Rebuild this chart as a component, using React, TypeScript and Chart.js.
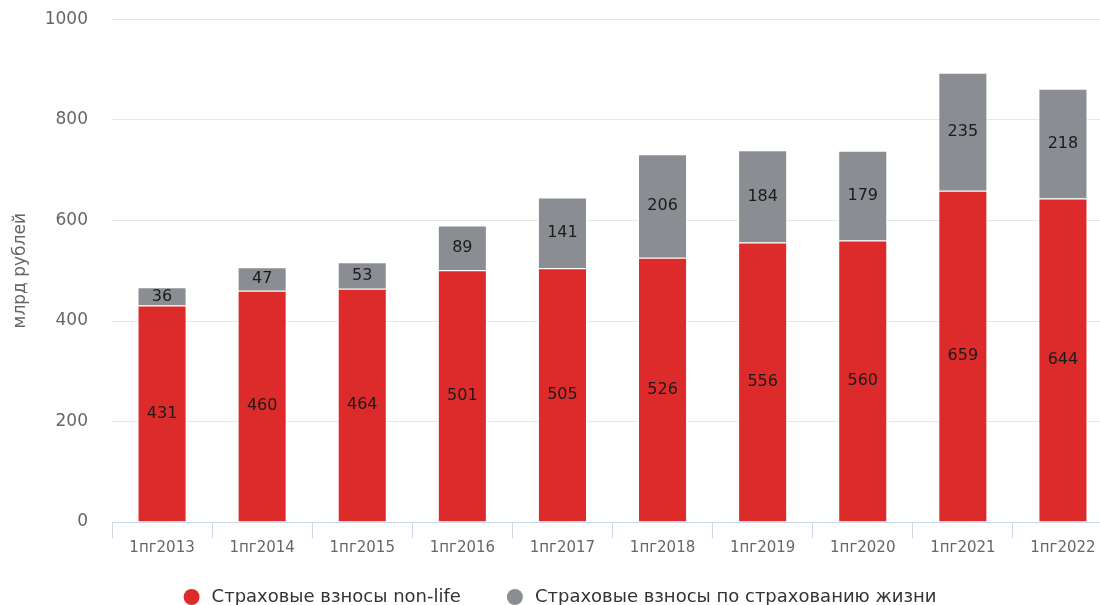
import React, { useEffect, useRef } from "react";
import { Chart, registerables } from "chart.js";

Chart.register(...registerables);

const categories = ["1пг2013", "1пг2014", "1пг2015", "1пг2016", "1пг2017", "1пг2018", "1пг2019", "1пг2020", "1пг2021", "1пг2022"];
const nonLife = [431, 460, 464, 501, 505, 526, 556, 560, 659, 644];
const life = [36, 47, 53, 89, 141, 206, 184, 179, 235, 218];
const seriesNames = ["Страховые взносы non-life", "Страховые взносы по страхованию жизни"];
const seriesColors = ["#dd2a2b", "#8a8d91"];
const yTicks = [0, 200, 400, 600, 800, 1000];
const yTitle = "млрд рублей";

const FONT = "'DejaVu Sans', sans-serif";

const labelPlugin = {
  id: "barLabels",
  afterDatasetsDraw(chart: any) {
    const ctx = chart.ctx;
    ctx.save();
    ctx.font = `16px ${FONT}`;
    ctx.fillStyle = "#1b1b1b";
    ctx.textAlign = "center";
    ctx.textBaseline = "middle";
    chart.data.datasets.forEach((ds: any, di: number) => {
      const meta = chart.getDatasetMeta(di);
      meta.data.forEach((el: any, i: number) => {
        const p = el.getProps(["x", "y", "base"], true);
        ctx.fillText(String(ds.data[i]), p.x, (p.y + p.base) / 2);
      });
    });
    ctx.restore();
  },
};

const legendPlugin = {
  id: "customLegend",
  afterDraw(chart: any) {
    const ctx = chart.ctx;
    ctx.save();
    ctx.font = `18px ${FONT}`;
    ctx.textBaseline = "middle";
    ctx.textAlign = "left";
    const ds = chart.data.datasets;
    const r = 8;
    const gapText = 20;
    const gapItem = 54;
    const widths = ds.map((d: any) => ctx.measureText(d.label).width);
    let total = r;
    widths.forEach((w: number, i: number) => { total += gapText + w + (i < widths.length - 1 ? gapItem : 0); });
    const cy = chart.height - 8;
    let x = chart.width / 2 - total / 2 + r;
    ds.forEach((d: any, i: number) => {
      ctx.fillStyle = d.backgroundColor;
      ctx.beginPath();
      ctx.arc(x, cy, r, 0, Math.PI * 2);
      ctx.fill();
      ctx.fillStyle = "#333";
      ctx.fillText(d.label, x + gapText, cy);
      x += gapText + widths[i] + gapItem;
    });
    ctx.restore();
  },
};

export default function App() {
  const ref = useRef<HTMLCanvasElement>(null);
  useEffect(() => {
    if (!ref.current) return;
    const chart = new Chart(ref.current, {
      type: "bar",
      data: {
        labels: categories,
        datasets: [
          { label: seriesNames[0], data: nonLife, backgroundColor: seriesColors[0], borderColor: "#ffffff", borderWidth: 1, barPercentage: 0.49, categoryPercentage: 1 },
          { label: seriesNames[1], data: life, backgroundColor: seriesColors[1], borderColor: "#ffffff", borderWidth: 1, barPercentage: 0.49, categoryPercentage: 1 },
        ],
      },
      options: {
        responsive: false,
        animation: false,
        layout: { padding: { top: 19.5, right: 7, left: 0, bottom: 47 } },
        plugins: {
          tooltip: { enabled: false },
          legend: { display: false },
        },
        scales: {
          x: {
            stacked: true,
            grid: { display: true, drawOnChartArea: false, offset: true, color: "#ccd6eb", tickLength: 16 },
            border: { color: "#ccd6eb" },
            ticks: { color: "#666", font: { family: FONT, size: 15 }, padding: 1, maxRotation: 0 },
          },
          y: {
            stacked: true,
            min: 0,
            max: 1000,
            afterBuildTicks: (s: any) => { s.ticks = yTicks.map((v) => ({ value: v })); },
            grid: { color: "#e6e6e6", drawTicks: false },
            border: { display: false },
            ticks: { color: "#666", font: { family: FONT, size: 17 }, padding: 24, callback: (v: any) => String(v) },
            title: { display: true, text: yTitle, color: "#666", font: { family: FONT, size: 17 }, padding: { top: 10, bottom: 0 } },
            afterFit: (s: any) => { s.width = 112; s.paddingTop = 0; s.paddingBottom = 0; },
          },
        },
      },
      plugins: [labelPlugin, legendPlugin],
    });
    return () => chart.destroy();
  }, []);
  return (
    <div style={{ position: "fixed", left: 0, top: 0, width: 1100, height: 605, overflow: "hidden", background: "#fff" }}>
      <canvas ref={ref} width={1120} height={605} style={{ width: 1120, height: 605 }} />
    </div>
  );
}
